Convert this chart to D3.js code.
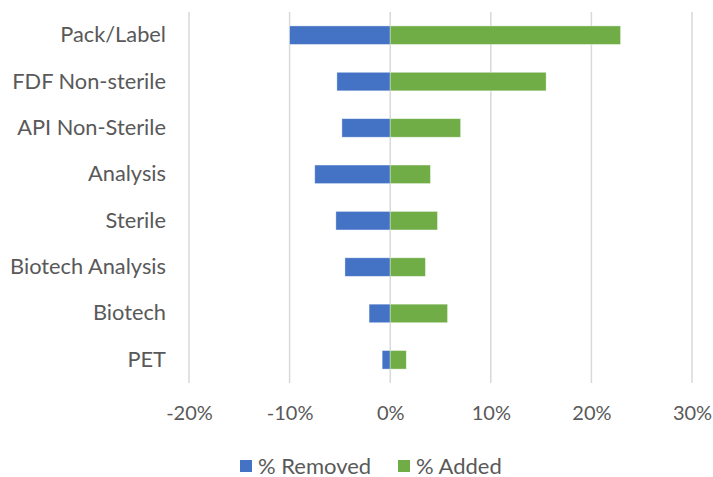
<!DOCTYPE html>
<html>
<head>
<meta charset="utf-8">
<script src="https://cdn.jsdelivr.net/npm/d3@7"></script>
<style>
  html, body { margin: 0; padding: 0; background: #fff; }
  svg { display: block; font-family: Lato, "Open Sans", sans-serif; }
</style>
</head>
<body>
<svg id="chart" width="713" height="477"></svg>
<script>
// Categories, top to bottom
const categories = ["Pack/Label", "FDF Non-sterile", "API Non-Sterile", "Analysis",
                    "Sterile", "Biotech Analysis", "Biotech", "PET"];
// Share of sites removed (negative) and added (positive), in percent
const removed = [-10.0, -5.3, -4.8, -7.5, -5.4, -4.5, -2.1, -0.8];
const added   = [22.9, 15.5, 7.0, 4.0, 4.7, 3.5, 5.7, 1.6];
const xTicks  = [-20, -10, 0, 10, 20, 30];
const seriesNames = ["% Removed", "% Added"];
const colors = ["#4472C4", "#70AD47"];

const svg = d3.select("#chart");
const margin = { top: 12, right: 21, bottom: 94, left: 189 };
const W = 713, H = 477;
const textColor = "#595959";

const x = d3.scaleLinear().domain([-20, 30]).range([margin.left, W - margin.right]);
const y = d3.scaleBand().domain(categories)
  .range([margin.top, H - margin.bottom]).paddingInner(0.6).paddingOuter(0.3);

// vertical gridlines
svg.append("g").selectAll("line").data(xTicks).join("line")
  .attr("x1", d => x(d)).attr("x2", d => x(d))
  .attr("y1", margin.top).attr("y2", H - margin.bottom)
  .attr("stroke", "#d9d9d9").attr("stroke-width", 1.5);

// bars
const series = [removed, added];
series.forEach((vals, si) => {
  svg.append("g").selectAll("rect").data(vals).join("rect")
    .attr("x", d => x(Math.min(0, d)))
    .attr("width", d => Math.abs(x(d) - x(0)))
    .attr("y", (d, i) => y(categories[i]))
    .attr("height", y.bandwidth())
    .attr("fill", colors[si])
    .attr("stroke", "#ffffff").attr("stroke-opacity", 0.5).attr("stroke-width", 0.75);
});

// x axis labels
const xAxis = d3.axisBottom(x).tickValues(xTicks).tickFormat(d => d + "%").tickSize(0).tickPadding(0);
const gx = svg.append("g").attr("transform", `translate(0,${H - margin.bottom})`).call(xAxis);
gx.select(".domain").remove();
gx.selectAll("text").attr("dy", null).attr("y", 37)
  .attr("font-size", 20).attr("fill", textColor)
  .attr("font-family", "Lato, 'Open Sans', sans-serif");

// y axis labels
const yAxis = d3.axisLeft(y).tickSize(0).tickPadding(0);
const gy = svg.append("g").attr("transform", `translate(166,0)`).call(yAxis);
gy.select(".domain").remove();
gy.selectAll("text").attr("font-size", 21.8).attr("fill", textColor)
  .attr("font-family", "Lato, 'Open Sans', sans-serif");

// legend
const legendItems = [{ x: 240, name: seriesNames[0], c: colors[0] },
                     { x: 398, name: seriesNames[1], c: colors[1] }];
const lg = svg.append("g");
legendItems.forEach(it => {
  lg.append("rect").attr("x", it.x).attr("y", 460).attr("width", 12).attr("height", 12).attr("fill", it.c);
  lg.append("text").attr("x", it.x + 18).attr("y", 473.5).text(it.name)
    .attr("font-size", 22).attr("fill", textColor);
});
</script>
</body>
</html>
